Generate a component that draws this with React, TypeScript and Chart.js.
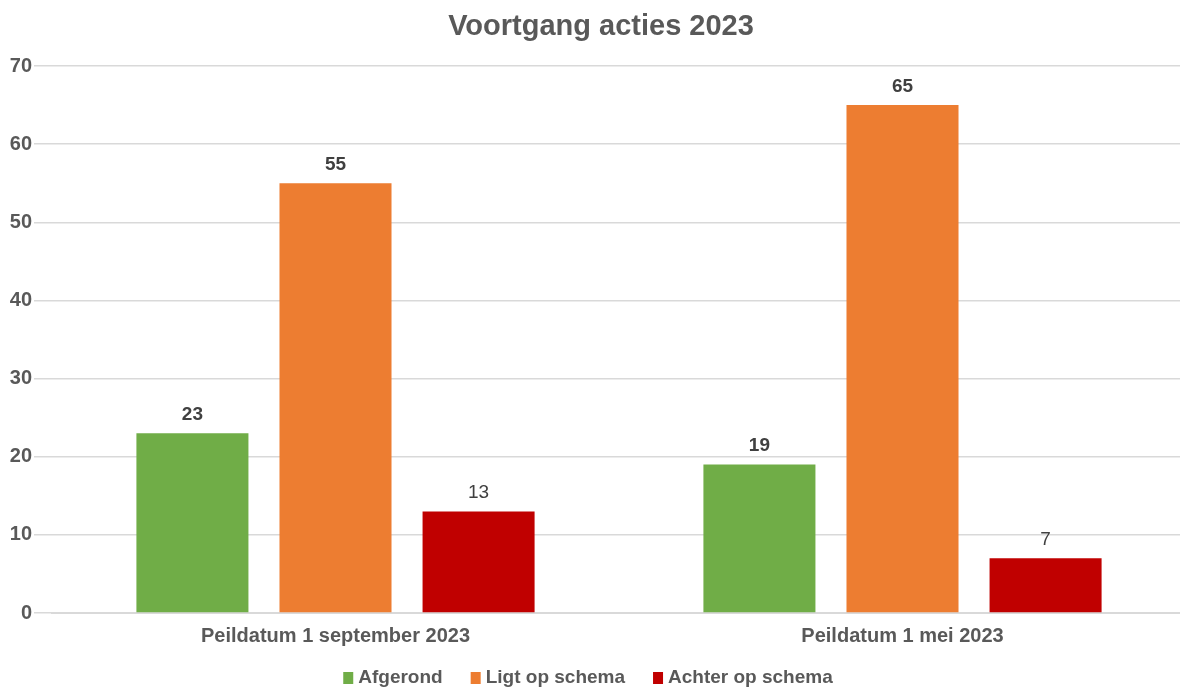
import React, { useEffect, useRef } from "react";
import { Chart, registerables } from "chart.js";

Chart.register(...registerables);

const chartTitle = "Voortgang acties 2023";
const categories = ["Peildatum 1 september 2023", "Peildatum 1 mei 2023"];
const seriesNames = ["Afgerond", "Ligt op schema", "Achter op schema"];
const afgerond = [23, 19];
const ligtOpSchema = [55, 65];
const achterOpSchema = [13, 7];
const seriesColors = ["#70AD47", "#ED7D31", "#C00000"];
const labelBold = [true, true, false];
const yTicks = [0, 10, 20, 30, 40, 50, 60, 70];

const FONT = "'Liberation Sans', Arial, sans-serif";
const TEXT = "#595959";

const valueLabels = {
  id: "valueLabels",
  afterDatasetsDraw(chart: any) {
    const ctx = chart.ctx;
    ctx.save();
    chart.data.datasets.forEach((ds: any, di: number) => {
      const meta = chart.getDatasetMeta(di);
      meta.data.forEach((el: any, i: number) => {
        ctx.font = `${labelBold[di] ? "bold " : ""}19px ${FONT}`;
        ctx.fillStyle = "#404040";
        ctx.textAlign = "center";
        ctx.textBaseline = "bottom";
        ctx.fillText(String(ds.data[i]), el.x, el.y - 9);
      });
    });
    ctx.restore();
  },
};

const titleAndLegend = {
  id: "titleAndLegend",
  afterDraw(chart: any) {
    const ctx = chart.ctx;
    ctx.save();
    ctx.font = `bold 29px ${FONT}`;
    ctx.fillStyle = TEXT;
    ctx.textAlign = "center";
    ctx.textBaseline = "middle";
    ctx.fillText(chartTitle, 601, 27);

    // legend
    ctx.font = `bold 19px ${FONT}`;
    const boxW = 10;
    const boxH = 12;
    const gapBox = 5;
    const gapItem = 28;
    const datasets = chart.data.datasets;
    const widths = datasets.map((d: any) => boxW + gapBox + ctx.measureText(d.label).width);
    const total = widths.reduce((a: number, b: number) => a + b, 0) + gapItem * (datasets.length - 1);
    let x = 588 - total / 2;
    const cy = 678;
    ctx.textAlign = "left";
    datasets.forEach((d: any, i: number) => {
      ctx.fillStyle = d.backgroundColor;
      ctx.fillRect(x, cy - boxH / 2, boxW, boxH);
      ctx.fillStyle = TEXT;
      ctx.fillText(d.label, x + boxW + gapBox, cy);
      x += widths[i] + gapItem;
    });
    ctx.restore();
  },
};

export default function App() {
  const ref = useRef<HTMLCanvasElement>(null);
  useEffect(() => {
    if (!ref.current) return;
    const data = [afgerond, ligtOpSchema, achterOpSchema];
    const chart = new Chart(ref.current, {
      type: "bar",
      data: {
        labels: categories,
        datasets: seriesNames.map((n, i) => ({
          label: n,
          data: data[i],
          backgroundColor: seriesColors[i],
          borderWidth: 0,
          categoryPercentage: 0.757,
          barPercentage: 0.783,
        })),
      },
      options: {
        animation: false,
        responsive: false,
        maintainAspectRatio: false,
        layout: { padding: { left: 0, right: 0, top: 66, bottom: 24 } },
        plugins: {
          title: { display: false },
          legend: { display: false },
          tooltip: { enabled: false },
        },
        scales: {
          x: {
            grid: { display: false, drawTicks: false },
            border: { display: true, color: "#D9D9D9", width: 2 },
            ticks: {
              color: TEXT,
              font: { family: FONT, size: 20, weight: "bold" },
              padding: 11,
            },
            afterFit: (s: any) => {
              s.height = 51;
            },
          },
          y: {
            min: 0,
            max: 70,
            afterBuildTicks: (s: any) => {
              s.ticks = yTicks.map((v) => ({ value: v }));
            },
            afterFit: (s: any) => {
              s.width = 52;
            },
            grid: { color: "#D9D9D9", lineWidth: 1.5, tickLength: 18, tickColor: "#D9D9D9" },
            border: { display: false },
            ticks: {
              color: TEXT,
              font: { family: FONT, size: 20, weight: "bold" },
              padding: 2,
            },
          },
        },
      },
      plugins: [valueLabels, titleAndLegend],
    } as any);
    return () => chart.destroy();
  }, []);
  return (
    <div style={{ position: "fixed", left: 0, top: 0, width: 1186, height: 688, background: "#fff" }}>
      <canvas ref={ref} width={1186} height={688} />
    </div>
  );
}
